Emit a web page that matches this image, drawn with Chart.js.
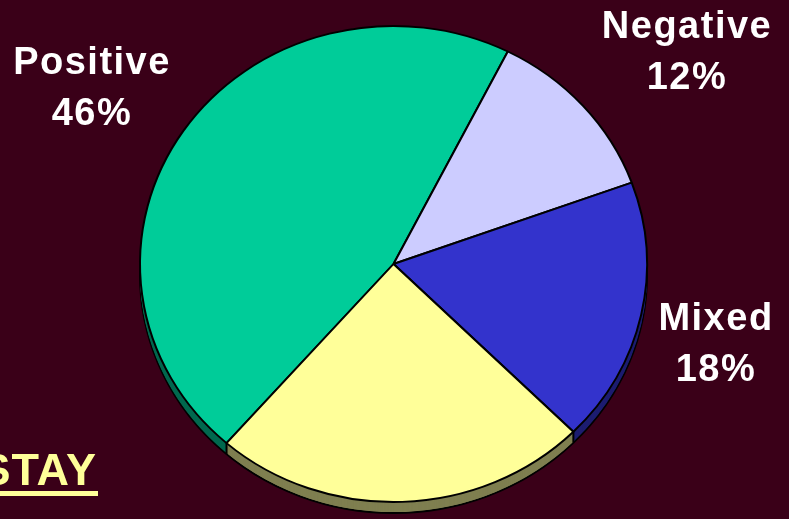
<!DOCTYPE html>
<html lang="en">
<head>
    <meta charset="UTF-8">
    <title>Feedback Pie</title>
    <style>
        body {
            margin: 0;
            padding: 0;
            background-color: #3a0018;
            overflow: hidden;
        }
        .chart-container {
            width: 789px;
            height: 519px;
        }
    </style>
</head>
<body>

<div class="chart-container">
    <canvas id="pieChart" width="789" height="519"></canvas>
</div>

<script src="https://cdn.jsdelivr.net/npm/chart.js"></script>
<script>
    // slice data
    const categories = ['Positive', 'Negative', 'Mixed', ''];
    const shares = [46, 12, 18, 24];
    const titleText = 'STAY';

    const faceColors = ['#00cc99', '#ccccff', '#3333cc', '#ffff99'];
    const sideColors = ['#00684e', '#67677f', '#1c1c70', '#7f7f50'];
    // where each label block sits (center x, first baseline)
    const labelPos = [[92, 74], [687, 38], [716, 330], null];

    const squash = 0.939;   // makes the pie a little flatter than a circle
    const depth = 11;       // thickness of the pie's side wall

    function pieMeta(chart) {
        return chart.getDatasetMeta(0).data;
    }

    const tiltPlugin = {
        id: 'tilt',
        beforeDatasetsDraw(chart) {
            const ctx = chart.ctx;
            const arcs = pieMeta(chart);
            if (!arcs.length) return;
            const cx = arcs[0].x, cy = arcs[0].y;

            // side wall: stack of shifted copies in darker shades
            for (let k = depth; k >= 1; k--) {
                ctx.save();
                ctx.translate(0, k);
                ctx.translate(cx, cy);
                ctx.scale(1, squash);
                ctx.translate(-cx, -cy);
                arcs.forEach((arc, i) => {
                    ctx.beginPath();
                    ctx.moveTo(arc.x, arc.y);
                    ctx.arc(arc.x, arc.y, arc.outerRadius, arc.startAngle, arc.endAngle);
                    ctx.closePath();
                    ctx.fillStyle = sideColors[i];
                    ctx.fill();
                });
                if (k === depth) {
                    ctx.beginPath();
                    ctx.ellipse(cx, cy, arcs[0].outerRadius, arcs[0].outerRadius, 0, 0, Math.PI * 2);
                    ctx.setTransform(1, 0, 0, 1, 0, 0);
                    ctx.lineWidth = 2;
                    ctx.strokeStyle = '#000';
                    ctx.stroke();
                }
                ctx.restore();
            }

            // vertical seams on the wall where slices meet
            ctx.save();
            ctx.strokeStyle = '#000';
            ctx.lineWidth = 2;
            arcs.forEach(arc => {
                const a = arc.startAngle;
                if (Math.sin(a) > 0.05) {
                    const px = cx + arc.outerRadius * Math.cos(a);
                    const py = cy + arc.outerRadius * Math.sin(a) * squash;
                    ctx.beginPath();
                    ctx.moveTo(px, py);
                    ctx.lineTo(px, py + depth);
                    ctx.stroke();
                }
            });
            ctx.restore();

            // flatten the top face
            ctx.save();
            ctx.translate(cx, cy);
            ctx.scale(1, squash);
            ctx.translate(-cx, -cy);
        },
        afterDatasetsDraw(chart) {
            chart.ctx.restore();
        },
        afterDraw(chart) {
            const ctx = chart.ctx;
            ctx.save();
            ctx.fillStyle = '#ffffff';
            ctx.textAlign = 'center';
            ctx.textBaseline = 'alphabetic';
            ctx.font = 'bold 38px "Liberation Sans", Arial, sans-serif';
            ctx.letterSpacing = '1.5px';
            categories.forEach((name, i) => {
                const pos = labelPos[i];
                if (!name || !pos) return;
                ctx.fillText(name, pos[0], pos[1]);
                ctx.fillText(shares[i] + '%', pos[0], pos[1] + 51);
            });

            // underlined heading, partly off the left edge
            ctx.fillStyle = '#ffff99';
            ctx.textAlign = 'right';
            ctx.letterSpacing = '1px';
            ctx.font = 'bold 45px "Liberation Sans", Arial, sans-serif';
            ctx.fillText(titleText, 97, 485);
            ctx.fillRect(0, 491, 98, 5);
            ctx.restore();
        }
    };

    const ctx = document.getElementById('pieChart').getContext('2d');
    const chart = new Chart(ctx, {
        type: 'pie',
        data: {
            labels: categories,
            datasets: [{
                data: shares,
                backgroundColor: faceColors,
                borderColor: '#000000',
                borderWidth: 2
            }]
        },
        options: {
            responsive: false,
            animation: false,
            rotation: -138.8,
            radius: 253.5,
            layout: {
                padding: { left: 0, right: 2, top: 9, bottom: 0 }
            },
            plugins: {
                legend: { display: false },
                tooltip: { enabled: false }
            }
        },
        plugins: [tiltPlugin]
    });
</script>

</body>
</html>
